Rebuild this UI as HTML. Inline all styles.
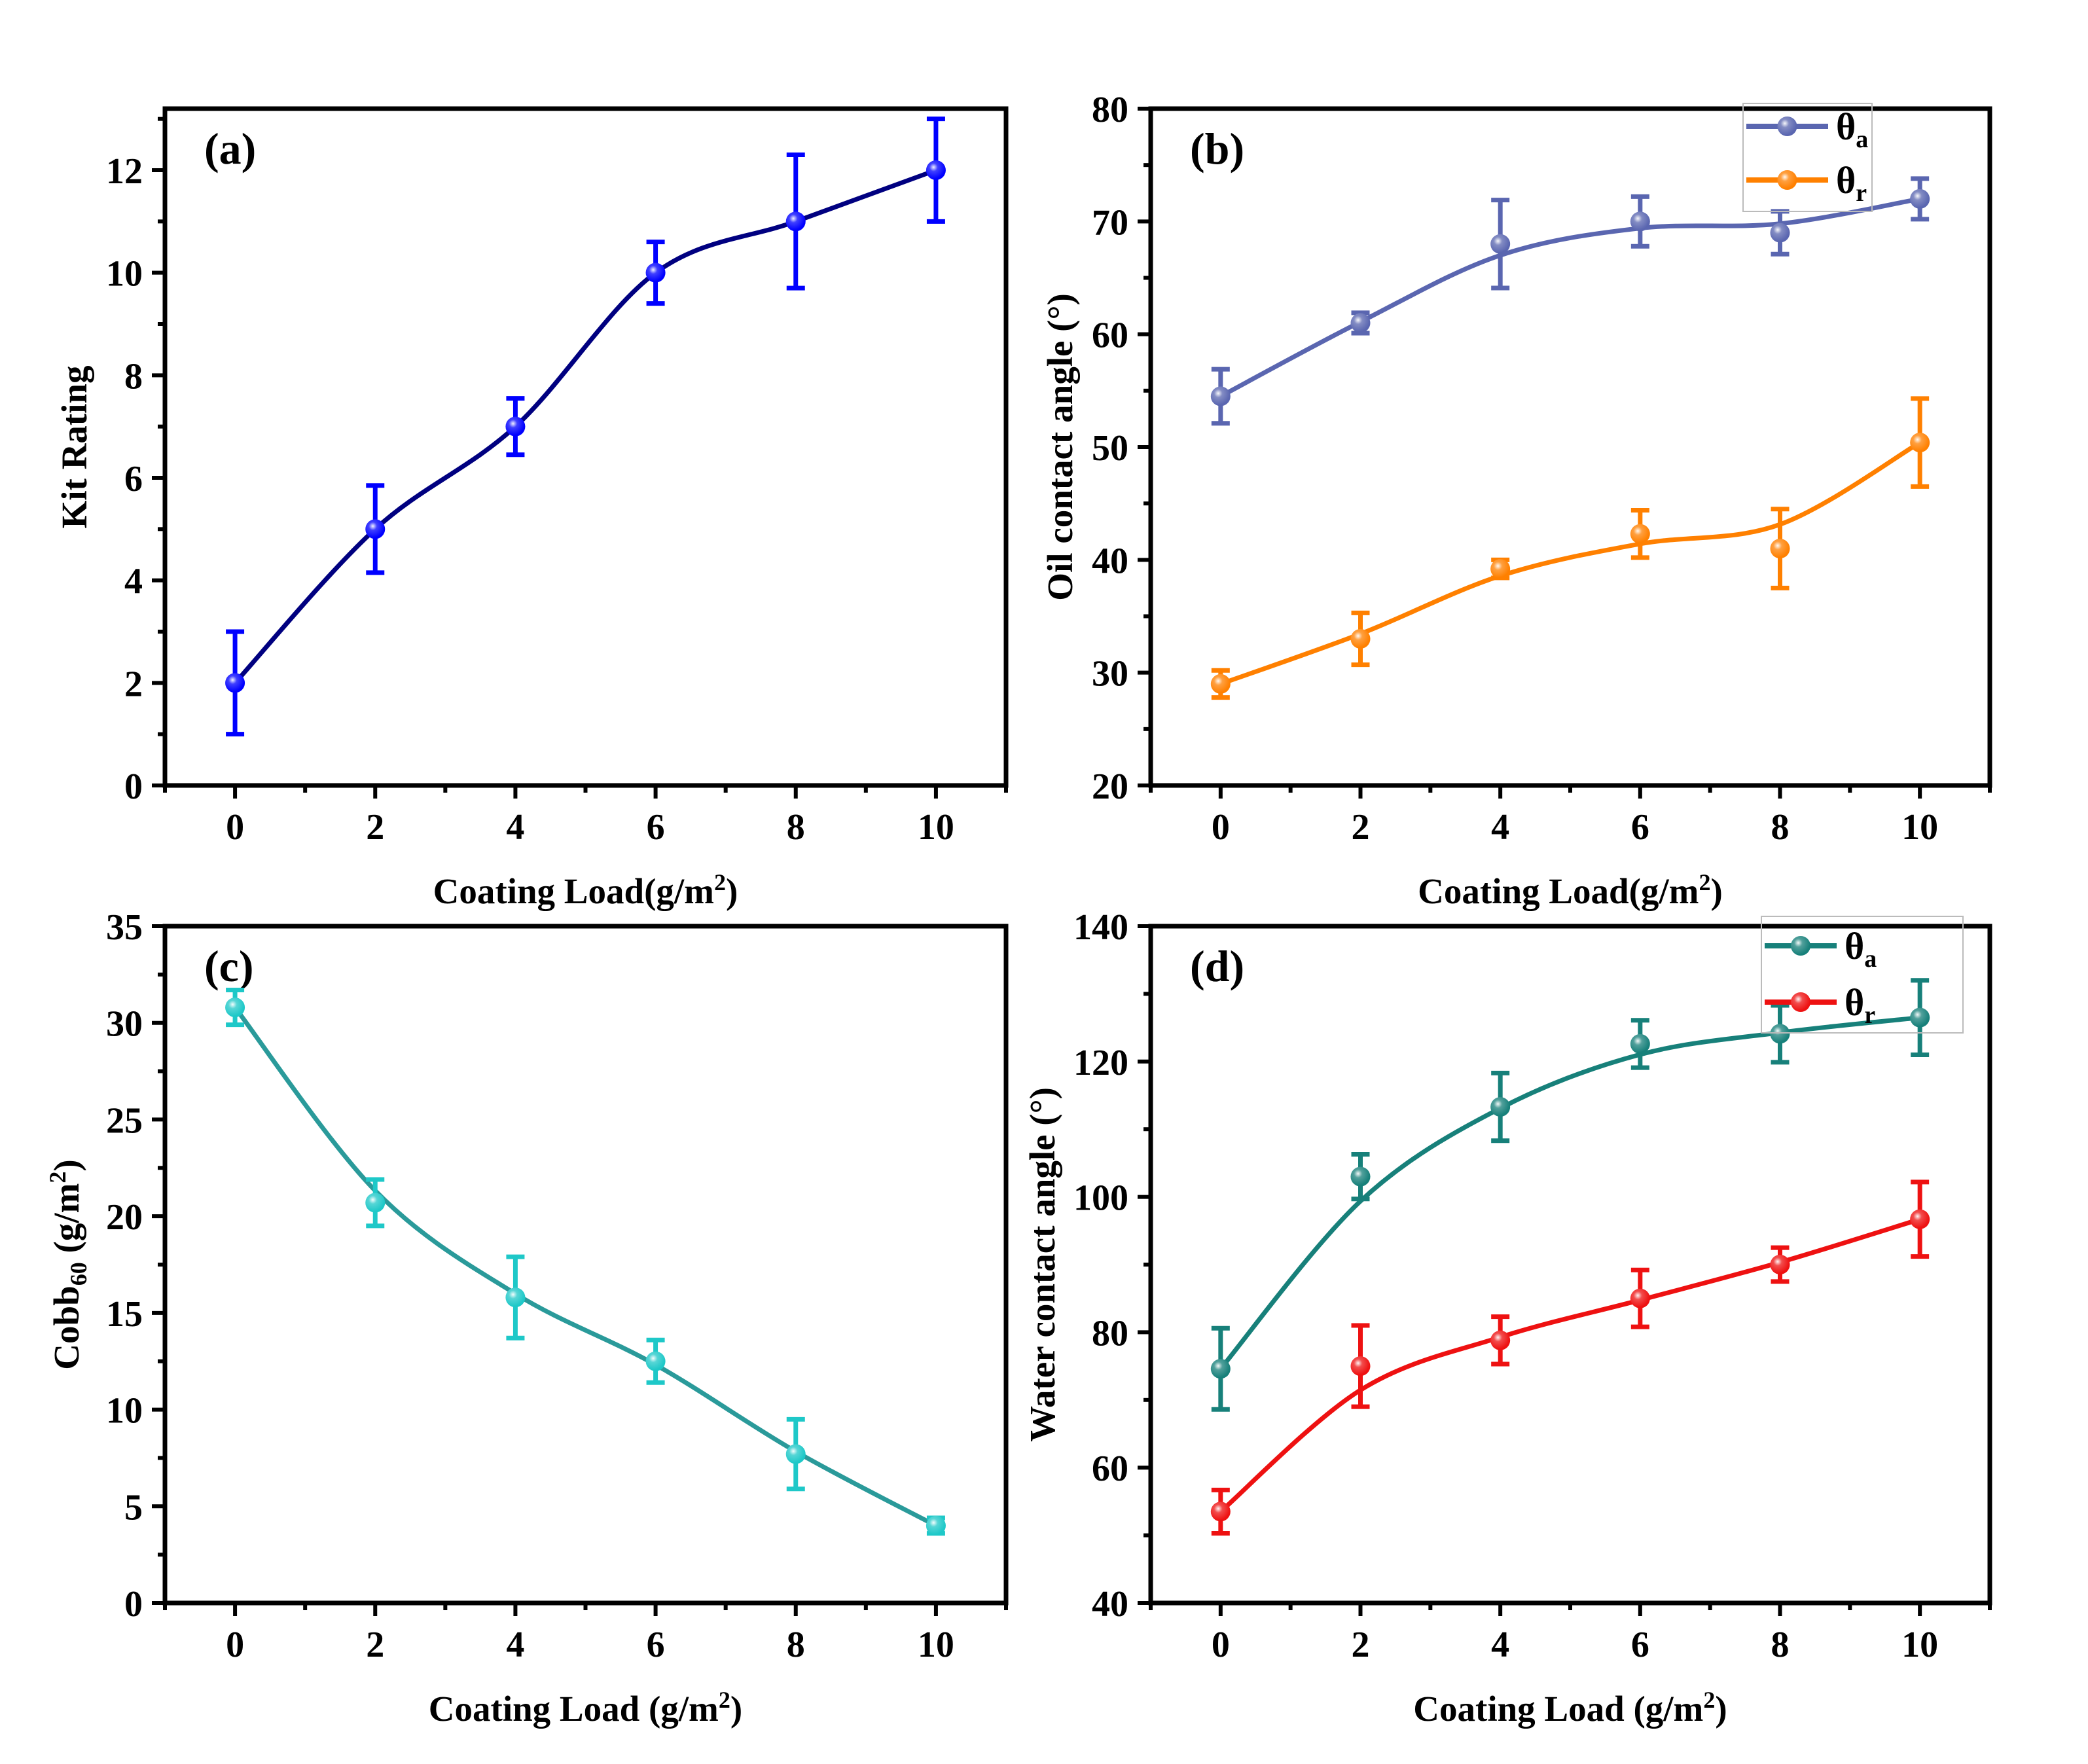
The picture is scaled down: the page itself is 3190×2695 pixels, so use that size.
<!DOCTYPE html>
<html><head><meta charset="utf-8"><style>
html,body{margin:0;padding:0;background:#fff;}
svg{display:block;}
text{font-family:"Liberation Serif",serif;font-weight:bold;fill:#000;}
</style></head><body>
<svg id="fig" width="3190" height="2695" viewBox="0 0 3190 2695" xmlns="http://www.w3.org/2000/svg">
<defs>
<radialGradient id="hl" cx="0.38" cy="0.35" r="0.6">
<stop offset="0" stop-color="#fff" stop-opacity="0.95"/>
<stop offset="0.35" stop-color="#fff" stop-opacity="0.25"/>
<stop offset="1" stop-color="#fff" stop-opacity="0"/>
</radialGradient>
</defs>
</svg>
<script>
// ---- data ----
const xLoad = [0, 2, 4, 6, 8, 10];
const xTicks = [0, 2, 4, 6, 8, 10];
const kitVals = [2, 5, 7, 10, 11, 12];
const kitErr = [1, 0.85, 0.55, 0.6, 1.3, 1];
const oilA = [54.5, 61, 68, 70, 69, 72];
const oilAErr = [2.4, 0.9, 3.9, 2.2, 1.9, 1.8];
const oilR = [29, 33, 39.2, 42.3, 41, 50.4];
const oilRErr = [1.2, 2.3, 0.8, 2.1, 3.5, 3.9];
const cobbVals = [30.8, 20.7, 15.8, 12.5, 7.7, 4];
const cobbErr = [0.9, 1.2, 2.1, 1.1, 1.8, 0.4];
const watA = [74.6, 103, 113.3, 122.6, 124.1, 126.5];
const watAErr = [6, 3.3, 5, 3.5, 4.2, 5.5];
const watR = [53.5, 75, 78.8, 85, 90, 96.7];
const watRErr = [3.2, 6, 3.5, 4.2, 2.5, 5.5];
const kitTicks = [0, 2, 4, 6, 8, 10, 12];
const oilTicks = [20, 30, 40, 50, 60, 70, 80];
const cobbTicks = [0, 5, 10, 15, 20, 25, 30, 35];
const watTicks = [40, 60, 80, 100, 120, 140];

const NS = "http://www.w3.org/2000/svg";
const svg = document.getElementById('fig');
function mk(tag, attrs, parent) {
  const e = document.createElementNS(NS, tag);
  for (const k in attrs) e.setAttribute(k, attrs[k]);
  (parent || svg).appendChild(e);
  return e;
}

function panel(cfg) {
  const g = mk('g', {});
  
  
  const L = cfg.x0, R = cfg.x1, T = cfg.y0, B = cfg.y1;
  const sx = v => L + (v - (-1)) / 12 * (R - L);
  const sy = v => B - (v - cfg.ymin) / (cfg.ymax - cfg.ymin) * (B - T);
  const fr = mk('rect', {x: L, y: T, width: R - L, height: B - T, fill: 'none', stroke: '#000', 'stroke-width': 7}, g);
  
  
  for (let v = -1; v <= 11; v++) {
    const major = xTicks.includes(v);
    mk('line', {x1: sx(v), x2: sx(v), y1: B, y2: B + (major ? 20 : 11), stroke: '#000', 'stroke-width': 6}, g);
  }
  xTicks.forEach(v => {
    const t = mk('text', {x: sx(v), y: B + 82, 'font-size': 56, 'text-anchor': 'middle'}, g);
    t.textContent = v;
    
    
  });
  const yt = cfg.yticks;
  const step = yt[1] - yt[0];
  for (let i = 0; i < yt.length; i++) {
    mk('line', {x1: L - 20, x2: L, y1: sy(yt[i]), y2: sy(yt[i]), stroke: '#000', 'stroke-width': 6}, g);
    const mid = yt[i] + step / 2;
    if (mid <= cfg.ymax) mk('line', {x1: L - 11, x2: L, y1: sy(mid), y2: sy(mid), stroke: '#000', 'stroke-width': 6}, g);
    const t = mk('text', {x: L - 34, y: sy(yt[i]) + 20, 'font-size': 56, 'text-anchor': 'end'}, g);
    t.textContent = yt[i];
    
    
  }
  const pl = mk('text', {x: L + 60, y: T + 84, 'font-size': 68}, g);
  pl.textContent = cfg.label;
  
  
  const xt = mk('text', {x: (L + R) / 2, y: B + 180, 'font-size': 55, 'text-anchor': 'middle'}, g);
  xt.innerHTML = cfg.xtitle;
  
  
  const ytl = mk('text', {x: 0, y: 0, 'font-size': 55, 'text-anchor': 'middle', transform: `translate(${cfg.ytx},${(T + B) / 2}) rotate(-90)`}, g);
  ytl.innerHTML = cfg.ytitle;
  
  
  cfg.series.forEach(s => {
    const sg = mk('g', {}, g);
    
    
    const w = s.smooth;
    const sm = s.vals.map((v, i) => (i === 0 || i === s.vals.length - 1) ? v : (1 - 2 * w) * v + w * (s.vals[i - 1] + s.vals[i + 1]));
    const pts = xLoad.map((x, i) => [sx(x), sy(sm[i])]);
    let d = `M${pts[0][0]},${pts[0][1]}`;
    for (let i = 0; i < pts.length - 1; i++) {
      const p0 = pts[Math.max(0, i - 1)], p1 = pts[i], p2 = pts[i + 1], p3 = pts[Math.min(pts.length - 1, i + 2)];
      const c1 = [p1[0] + (p2[0] - p0[0]) / 6, p1[1] + (p2[1] - p0[1]) / 6];
      const c2 = [p2[0] - (p3[0] - p1[0]) / 6, p2[1] - (p3[1] - p1[1]) / 6];
      d += ` C${c1[0]},${c1[1]} ${c2[0]},${c2[1]} ${p2[0]},${p2[1]}`;
    }
    const ln = mk('path', {d: d, fill: 'none', stroke: s.line, 'stroke-width': 7}, sg);
    
    
    xLoad.forEach((x, i) => {
      const cx = sx(x), v = s.vals[i], e = s.err[i];
      const eb = mk('path', {d: `M${cx},${sy(v + e)}V${sy(v - e)}M${cx - 14},${sy(v + e)}H${cx + 14}M${cx - 14},${sy(v - e)}H${cx + 14}`, stroke: s.mark, 'stroke-width': 7, fill: 'none'}, sg);
      
      
      const c = mk('circle', {cx: cx, cy: sy(v), r: 15, fill: s.mark}, sg);
      
      
      mk('circle', {cx: cx, cy: sy(v), r: 15, fill: 'url(#hl)'}, sg);
    });
  });
  if (cfg.legend) {
    const lg = cfg.legend;
    const lgg = mk('g', {}, g);
    
    
    mk('rect', {x: lg.x, y: lg.y, width: lg.w, height: lg.h, fill: 'none', stroke: '#bbb', 'stroke-width': 2}, lgg);
    cfg.series.forEach((s, i) => {
      const yy = lg.y + lg.r0 + i * lg.dy;
      const eg = mk('g', {}, lgg);
      
      
      mk('line', {x1: lg.x + 5, x2: lg.x + lg.lw, y1: yy, y2: yy, stroke: s.line, 'stroke-width': 8}, eg);
      mk('circle', {cx: lg.x + 5 + (lg.lw - 5) / 2, cy: yy, r: 15, fill: s.mark}, eg);
      mk('circle', {cx: lg.x + 5 + (lg.lw - 5) / 2, cy: yy, r: 15, fill: 'url(#hl)'}, eg);
      const t = mk('text', {x: lg.x + lg.lw + 12, y: yy + 20, 'font-size': 58}, eg);
      t.innerHTML = `θ<tspan font-size="38" dy="12">${s.sub}</tspan>`;
    });
  }
}

panel({name: 'panel-a-kit-rating', label: '(a)', x0: 252, x1: 1537, y0: 166, y1: 1200, ymin: 0, ymax: 13.2, yticks: kitTicks,
  xtitle: 'Coating Load(g/m<tspan font-size="36" dy="-20">2</tspan><tspan dy="20">)</tspan>', ytitle: 'Kit Rating', ytx: 132,
  series: [{name: 'kit-series', vals: kitVals, err: kitErr, line: '#000080', mark: '#0000ff', smooth: 0}]});

panel({name: 'panel-b-oil-contact-angle', label: '(b)', x0: 1758, x1: 3040, y0: 166, y1: 1200, ymin: 20, ymax: 80, yticks: oilTicks,
  xtitle: 'Coating Load(g/m<tspan font-size="36" dy="-20">2</tspan><tspan dy="20">)</tspan>', ytitle: 'Oil contact angle (°)', ytx: 1638,
  series: [{name: 'oil-theta-a', sub: 'a', vals: oilA, err: oilAErr, line: '#5a66b0', mark: '#5a66b0', smooth: 0.2},
           {name: 'oil-theta-r', sub: 'r', vals: oilR, err: oilRErr, line: '#ff8000', mark: '#ff8000', smooth: 0.2}],
  legend: {x: 2663, y: 158, w: 197, h: 165, r0: 35, dy: 82, lw: 130}});

panel({name: 'panel-c-cobb60', label: '(c)', x0: 252, x1: 1537, y0: 1415, y1: 2449, ymin: 0, ymax: 35, yticks: cobbTicks,
  xtitle: 'Coating Load (g/m<tspan font-size="36" dy="-20">2</tspan><tspan dy="20">)</tspan>',
  ytitle: 'Cobb<tspan font-size="36" dy="12">60</tspan><tspan dy="-12"> (g/m</tspan><tspan font-size="36" dy="-20">2</tspan><tspan dy="20">)</tspan>', ytx: 120,
  series: [{name: 'cobb-series', vals: cobbVals, err: cobbErr, line: '#2a9a9a', mark: '#1ec8c8', smooth: 0.12}]});

panel({name: 'panel-d-water-contact-angle', label: '(d)', x0: 1758, x1: 3040, y0: 1415, y1: 2449, ymin: 40, ymax: 140, yticks: watTicks,
  xtitle: 'Coating Load (g/m<tspan font-size="36" dy="-20">2</tspan><tspan dy="20">)</tspan>', ytitle: 'Water contact angle (°)', ytx: 1611,
  series: [{name: 'water-theta-a', sub: 'a', vals: watA, err: watAErr, line: '#17807a', mark: '#17807a', smooth: 0.2},
           {name: 'water-theta-r', sub: 'r', vals: watR, err: watRErr, line: '#ee1111', mark: '#ee1111', smooth: 0.2}],
  legend: {x: 2691, y: 1400, w: 308, h: 178, r0: 45, dy: 86, lw: 115}});
</script>
</body></html>
